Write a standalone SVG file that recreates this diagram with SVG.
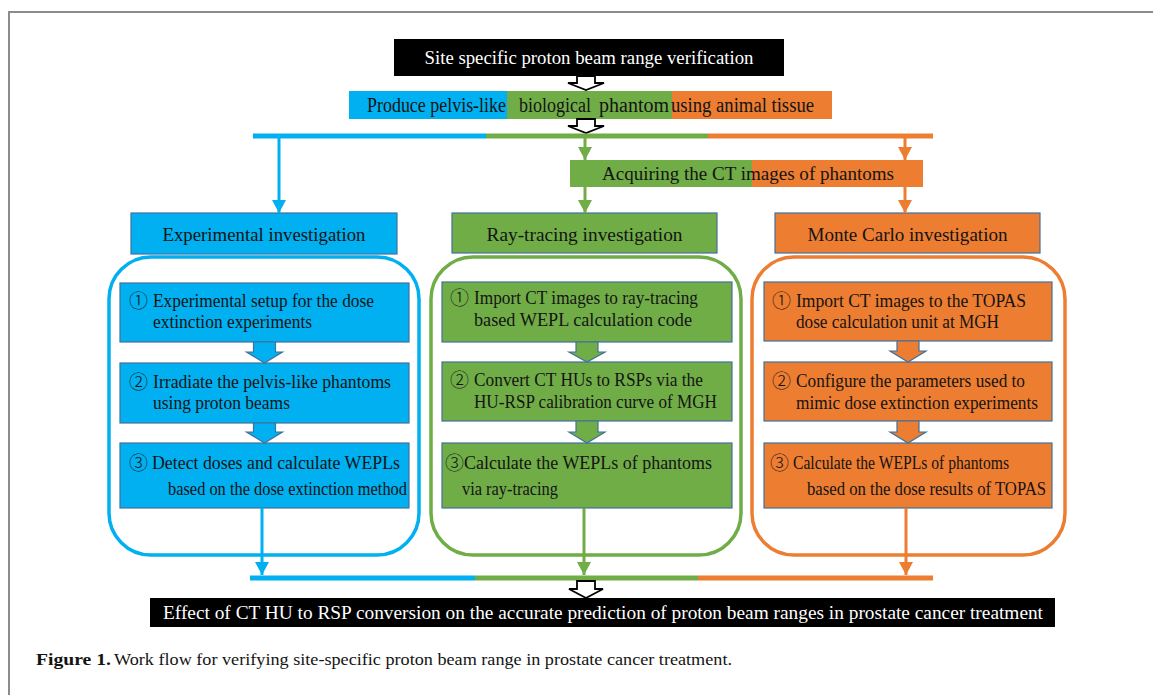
<svg xmlns="http://www.w3.org/2000/svg" width="1153" height="695" viewBox="0 0 1153 695">
<style>
text{font-family:"Liberation Serif","Times New Roman",serif;fill:#141414}
.w{fill:#ffffff}
.t{font-size:19.5px}
.s{font-size:18.5px}
.s3{font-size:19.5px}
.c{font-family:"Noto Sans CJK JP","DejaVu Sans",sans-serif;font-size:19px;font-weight:300}
.hb{stroke:#41719C;stroke-width:1.2}
.blue{fill:#00B0F0}.green{fill:#70AD47}.orange{fill:#ED7D31}
.cont{fill:none;stroke-width:3.5}
.ln{fill:none;stroke-width:3}
.bar{fill:none;stroke-width:5}
.hollow{fill:#ffffff;stroke:#000;stroke-width:1.8}
</style>
<defs>
<marker id="mb" markerUnits="userSpaceOnUse" markerWidth="14" markerHeight="14" refX="13" refY="7" orient="auto"><path d="M0,0 L13,7 L0,14 z" fill="#00B0F0"/></marker>
<marker id="mg" markerUnits="userSpaceOnUse" markerWidth="14" markerHeight="14" refX="13" refY="7" orient="auto"><path d="M0,0 L13,7 L0,14 z" fill="#70AD47"/></marker>
<marker id="mo" markerUnits="userSpaceOnUse" markerWidth="14" markerHeight="14" refX="13" refY="7" orient="auto"><path d="M0,0 L13,7 L0,14 z" fill="#ED7D31"/></marker>
</defs>
<rect width="1153" height="695" fill="#ffffff"/>
<path d="M9,695 V12 H1153" fill="none" stroke="#8c8c8c" stroke-width="2"/>

<g id="title">
<rect x="394" y="39" width="390" height="37" fill="#000"/>
<text class="w t" x="589" y="64" text-anchor="middle" textLength="329" lengthAdjust="spacingAndGlyphs">Site specific  proton beam range verification</text>
</g>

<g id="phantom">
<rect x="349" y="91" width="158" height="28" class="blue"/>
<rect x="507" y="91" width="165" height="28" class="green"/>
<rect x="672" y="91" width="160" height="28" class="orange"/>
<text x="367" y="112" style="font-size:20px" textLength="139" lengthAdjust="spacingAndGlyphs">Produce pelvis-like</text>
<text x="519" y="112" style="font-size:20px" textLength="72" lengthAdjust="spacingAndGlyphs">biological</text>
<text x="599" y="112" style="font-size:20px" textLength="70" lengthAdjust="spacingAndGlyphs">phantom</text>
<text x="671" y="112" style="font-size:20px" textLength="143" lengthAdjust="spacingAndGlyphs">using animal tissue</text>
</g>

<g id="acquire">
<rect x="570" y="160" width="182" height="27" class="green"/>
<rect x="752" y="160" width="171" height="27" class="orange"/>
<text class="t" x="602" y="180" textLength="292" lengthAdjust="spacingAndGlyphs">Acquiring the CT images of phantoms</text>
</g>

<g id="hdr-exp">
<rect x="131" y="213" width="266" height="41" class="blue hb"/>
<text class="t" x="264" y="241" text-anchor="middle" textLength="203" lengthAdjust="spacingAndGlyphs">Experimental  investigation</text>
</g>
<g id="hdr-ray">
<rect x="452" y="213" width="265" height="40" class="green hb"/>
<text class="t" x="584.5" y="241" text-anchor="middle" textLength="196" lengthAdjust="spacingAndGlyphs">Ray-tracing investigation</text>
</g>
<g id="hdr-mc">
<rect x="775" y="213" width="265" height="40" class="orange hb"/>
<text class="t" x="907.5" y="241" text-anchor="middle" textLength="200" lengthAdjust="spacingAndGlyphs">Monte Carlo investigation</text>
</g>

<g id="cont-exp"><rect x="109" y="257" width="310" height="298" rx="42" class="cont" stroke="#00B0F0"/></g>
<g id="cont-ray"><rect x="431" y="257" width="310" height="298" rx="42" class="cont" stroke="#70AD47"/></g>
<g id="cont-mc"><rect x="752" y="257" width="313" height="298" rx="42" class="cont" stroke="#ED7D31"/></g>

<g id="exp1">
<rect x="120" y="283" width="289" height="59" class="blue hb"/>
<text class="c" x="129" y="308">①</text>
<text class="s" x="153" y="307" textLength="221" lengthAdjust="spacingAndGlyphs">Experimental  setup for the dose</text>
<text class="s" x="153" y="328" textLength="159" lengthAdjust="spacingAndGlyphs">extinction experiments</text>
</g>
<g id="exp2">
<rect x="120" y="363" width="289" height="60" class="blue hb"/>
<text class="c" x="129" y="389">②</text>
<text class="s" x="153" y="388" textLength="238" lengthAdjust="spacingAndGlyphs">Irradiate the pelvis-like  phantoms</text>
<text class="s" x="153" y="409" textLength="137" lengthAdjust="spacingAndGlyphs">using proton beams</text>
</g>
<g id="exp3">
<rect x="120" y="443" width="289" height="65" class="blue hb"/>
<text class="c" x="129" y="470">③</text>
<text class="s3" x="152" y="469" textLength="248" lengthAdjust="spacingAndGlyphs">Detect  doses and calculate WEPLs</text>
<text class="s3" x="168" y="495" textLength="239" lengthAdjust="spacingAndGlyphs">based on the dose extinction method</text>
</g>

<g id="ray1">
<rect x="442" y="282" width="290" height="60" class="green hb"/>
<text class="c" x="450" y="305">①</text>
<text class="s" x="474" y="304" textLength="224" lengthAdjust="spacingAndGlyphs">Import CT images  to ray-tracing</text>
<text class="s" x="474" y="326" textLength="218" lengthAdjust="spacingAndGlyphs">based WEPL  calculation code</text>
</g>
<g id="ray2">
<rect x="442" y="362" width="290" height="59" class="green hb"/>
<text class="c" x="450" y="387">②</text>
<text class="s" x="474" y="386" textLength="229" lengthAdjust="spacingAndGlyphs">Convert CT HUs  to RSPs via the</text>
<text class="s" x="474" y="408" textLength="243" lengthAdjust="spacingAndGlyphs">HU-RSP  calibration curve of MGH</text>
</g>
<g id="ray3">
<rect x="442" y="443" width="290" height="65" class="green hb"/>
<text class="c" x="445" y="470">③</text>
<text class="s3" x="464" y="469" textLength="248" lengthAdjust="spacingAndGlyphs">Calculate the WEPLs  of phantoms</text>
<text class="s3" x="462" y="495" textLength="96" lengthAdjust="spacingAndGlyphs">via ray-tracing</text>
</g>

<g id="mc1">
<rect x="764" y="282" width="288" height="59" class="orange hb"/>
<text class="c" x="772" y="308">①</text>
<text class="s" x="796" y="307" textLength="230" lengthAdjust="spacingAndGlyphs">Import CT images to the TOPAS</text>
<text class="s" x="796" y="328" textLength="203" lengthAdjust="spacingAndGlyphs">dose calculation unit at MGH</text>
</g>
<g id="mc2">
<rect x="764" y="362" width="288" height="59" class="orange hb"/>
<text class="c" x="772" y="388">②</text>
<text class="s" x="796" y="387" textLength="229" lengthAdjust="spacingAndGlyphs">Configure the parameters used to</text>
<text class="s" x="796" y="409" textLength="242" lengthAdjust="spacingAndGlyphs">mimic dose extinction experiments</text>
</g>
<g id="mc3">
<rect x="764" y="443" width="288" height="65" class="orange hb"/>
<text class="c" x="770" y="470">③</text>
<text class="s3" x="793" y="469" textLength="216" lengthAdjust="spacingAndGlyphs">Calculate the WEPLs of phantoms</text>
<text class="s3" x="807" y="495" textLength="239" lengthAdjust="spacingAndGlyphs">based on the dose results of TOPAS</text>
</g>

<g id="result">
<rect x="150" y="598" width="905" height="29" fill="#000"/>
<text class="w" x="163" y="619" style="font-size:19px" textLength="880" lengthAdjust="spacingAndGlyphs">Effect of CT HU to RSP conversion on the accurate prediction of proton beam ranges in prostate cancer treatment</text>
</g>

<g id="connectors">
<path class="hollow" d="M577,76 H595 V83 H604 L586,90 L568,83 H577 Z"/>
<path class="hollow" d="M577,119 H595 V126 H604 L586,133 L568,126 H577 Z"/>
<path d="M253,136 H486" class="bar" stroke="#00B0F0"/>
<path d="M486,136 H708" class="bar" stroke="#70AD47"/>
<path d="M708,136 H933" class="bar" stroke="#ED7D31"/>
<path d="M279,138 V213" class="ln" stroke="#00B0F0" marker-end="url(#mb)"/>
<path d="M585,138 V160" class="ln" stroke="#70AD47" marker-end="url(#mg)"/>
<path d="M905,138 V160" class="ln" stroke="#ED7D31" marker-end="url(#mo)"/>
<path d="M585,187 V213" class="ln" stroke="#70AD47" marker-end="url(#mg)"/>
<path d="M905,187 V213" class="ln" stroke="#ED7D31" marker-end="url(#mo)"/>
<path d="M253.5,342 H275.5 V352 H282.5 L264.5,363 L246.5,352 H253.5 Z" class="blue hb"/>
<path d="M253.5,423 H275.5 V432 H282.5 L264.5,443 L246.5,432 H253.5 Z" class="blue hb"/>
<path d="M576,342 H598 V352 H605 L587,362 L569,352 H576 Z" class="green hb"/>
<path d="M576,421 H598 V432 H605 L587,443 L569,432 H576 Z" class="green hb"/>
<path d="M897,341 H919 V351 H926 L908,362 L890,351 H897 Z" class="orange hb"/>
<path d="M897,421 H919 V432 H926 L908,443 L890,432 H897 Z" class="orange hb"/>
<path d="M262,508 V575" class="ln" stroke="#00B0F0" marker-end="url(#mb)"/>
<path d="M584,508 V575" class="ln" stroke="#70AD47" marker-end="url(#mg)"/>
<path d="M906,508 V575" class="ln" stroke="#ED7D31" marker-end="url(#mo)"/>
<path d="M250,578 H475" class="bar" stroke="#00B0F0"/>
<path d="M475,578 H698" class="bar" stroke="#70AD47"/>
<path d="M698,578 H933" class="bar" stroke="#ED7D31"/>
<path class="hollow" d="M577,581 H595 V589 H603 L586,598 L569,589 H577 Z"/>
</g>

<g id="caption">
<text x="36" y="665" style="font-size:17.5px"><tspan font-weight="bold" textLength="75" lengthAdjust="spacingAndGlyphs">Figure 1.</tspan></text>
<text x="114" y="665" style="font-size:17.5px" textLength="618" lengthAdjust="spacingAndGlyphs">Work flow for verifying site-specific proton beam range in prostate cancer treatment.</text>
</g>
</svg>
